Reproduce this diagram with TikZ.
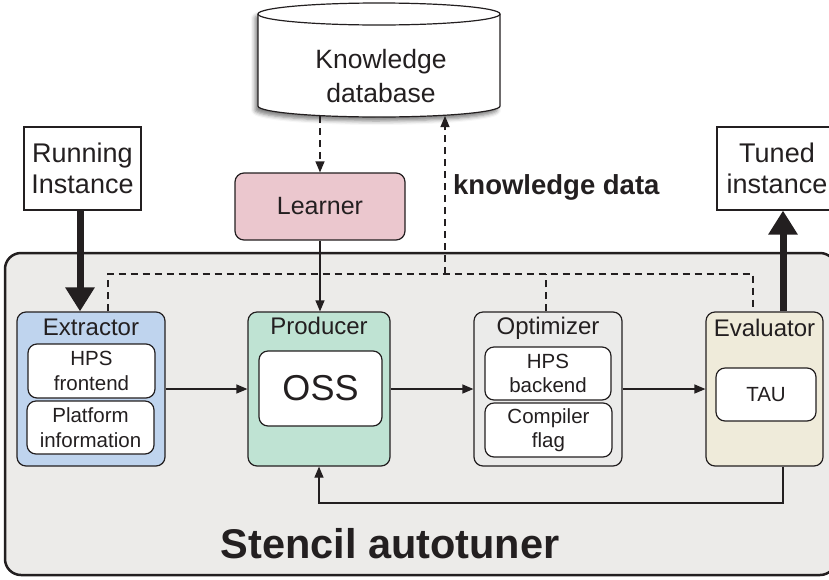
\documentclass[tikz,border=0pt]{standalone}
\usepackage{fontspec}
\setmainfont{Liberation Sans}
\usetikzlibrary{arrows.meta,shadows.blur}
\definecolor{ink}{HTML}{231F20}
\definecolor{panel}{HTML}{ECEBE9}
\definecolor{extrfill}{HTML}{BFD4EE}
\definecolor{prodfill}{HTML}{BFE3D3}
\definecolor{optfill}{HTML}{EBEBEA}
\definecolor{evalfill}{HTML}{EFEBDA}
\definecolor{learnfill}{HTML}{EBC7CE}
\newcommand{\fs}[1]{\fontsize{#1}{#1}\selectfont}
\tikzset{
  stage/.style={draw=ink, line width=1.2pt, rounded corners=9pt, inner sep=0pt},
  part/.style={draw=ink, fill=white, line width=1.2pt, rounded corners=9pt, inner sep=0pt,
    align=center, text=ink, font=\fs{20.5}, execute at begin node=\setlength{\baselineskip}{24.5pt}},
  title/.style={text=ink, font=\fs{24}, inner sep=0pt},
  plainbox/.style={draw=ink, fill=white, line width=1.2pt, inner sep=0pt, align=center,
    text=ink, font=\fs{27}, execute at begin node=\setlength{\baselineskip}{31pt}},
  flow/.style={draw=ink, line width=1.2pt, -{Triangle[length=11pt,width=9pt]}},
  dashflow/.style={draw=ink, line width=1.2pt, dash pattern=on 7pt off 5pt},
  bigflow/.style={draw=ink, line width=7pt, -{Triangle[length=24pt,width=28pt]}},
}
\begin{document}
\begin{tikzpicture}[x=1pt,y=-1pt]
\clip (0,0) rectangle (829,579);

% autotuner panel
\draw[ink, fill=panel, line width=2.5pt, rounded corners=16pt] (5,253) rectangle (836,575);
\node[text=ink, font=\bfseries\fs{41.5}] (title) at (390,544) {Stencil autotuner};

% knowledge database cylinder
\path[fill=white, blur shadow={shadow xshift=-3pt, shadow yshift=-4pt, shadow blur radius=4pt, shadow opacity=50}]
  (258,14) arc[start angle=180, end angle=360, x radius=121, y radius=11]
  -- (500,106) arc[start angle=0, end angle=180, x radius=121, y radius=11] -- cycle;
\draw[ink, line width=1.2pt]
  (258,14) -- (258,106) arc[start angle=180, end angle=0, x radius=121, y radius=11] -- (500,14);
\draw[ink, line width=1.2pt, fill=white] (379,14) ellipse[x radius=121, y radius=11];
\node[text=ink, font=\fs{26.5}, align=center, execute at begin node=\setlength{\baselineskip}{34pt}]
  (db) at (381,76) {Knowledge\\database};
\coordinate (dbbot) at (379,116);

% external instances
\node[plainbox, minimum width=117pt, minimum height=83pt] (run) at (82.5,168.5) {Running\\Instance};
\node[plainbox, minimum width=120pt, minimum height=83pt] (tuned) at (777,168.5) {Tuned\\instance};

% learner
\node[stage, fill=learnfill, minimum width=170pt, minimum height=67pt, text=ink, font=\fs{25}]
  (learn) at (320,206.5) {Learner};

% stages
\node[stage, fill=extrfill, minimum width=148pt, minimum height=154pt] (extr) at (91,389) {};
\node[stage, fill=prodfill, minimum width=142pt, minimum height=154pt] (prod) at (319,389) {};
\node[stage, fill=optfill, minimum width=148pt, minimum height=154pt] (opt) at (548,389) {};
\node[stage, fill=evalfill, minimum width=117pt, minimum height=154pt] (eval) at (764.5,389) {};

\node[title] (extrT) at (91,327) {Extractor};
\node[title] (prodT) at (319,326) {Producer};
\node[title] (optT) at (548,328) {Optimizer};
\node[title] (evalT) at (764.5,328) {Evaluator};

\node[part, minimum width=127pt, minimum height=54pt] (hpsf) at (91.5,371) {HPS\\frontend};
\node[part, minimum width=127pt, minimum height=53pt] (plat) at (90.5,427.5) {Platform\\information};
\node[part, minimum width=123pt, minimum height=75pt, font=\fs{36}] (oss) at (320.5,388.5) {OSS};
\node[part, minimum width=126pt, minimum height=53pt] (hpsb) at (548,373.5) {HPS\\backend};
\node[part, minimum width=127pt, minimum height=54pt] (comp) at (548.5,430) {Compiler\\flag};
\node[part, minimum width=100pt, minimum height=53pt] (tau) at (766,394.5) {TAU};

% main pipeline
\draw[flow] (extr.east) -- (prod.west);
\draw[flow] (prod.east) -- (opt.west);
\draw[flow] (opt.east) -- (eval.west);

% learner links
\draw[flow, dash pattern=on 7pt off 5pt] (dbbot -| learn) -- (learn.north);
\draw[flow] (learn.south) -- (learn.south |- prod.north);

% feedback from evaluator to producer
\coordinate (back) at (783,503);
\draw[flow] (eval.south -| back) -- (back) -| (prod.south);

% knowledge data collection
\coordinate (kdL) at (108,274);
\coordinate (kdR) at (753,274);
\coordinate (kd) at (445,274);
\draw[dashflow] (extr.north -| kdL) -- (kdL) -- (kdR) -- (eval.north -| kdR);
\draw[dashflow] (opt.north -| 546,0) -- (546,274);
\draw[dashflow, -{Triangle[length=11pt,width=9pt]}] (kd) -- (kd |- dbbot);
\node[anchor=west, text=ink, font=\bfseries\fs{27.5}, inner sep=0pt] (kdlabel) at (453,187) {knowledge data};

% instance flow
\coordinate (upx) at (783,0);
\draw[bigflow] (run.south -| 80,0) -- (80,0 |- extr.north);
\draw[bigflow] (eval.north -| upx) -- (upx |- tuned.south);
\end{tikzpicture}
\end{document}
